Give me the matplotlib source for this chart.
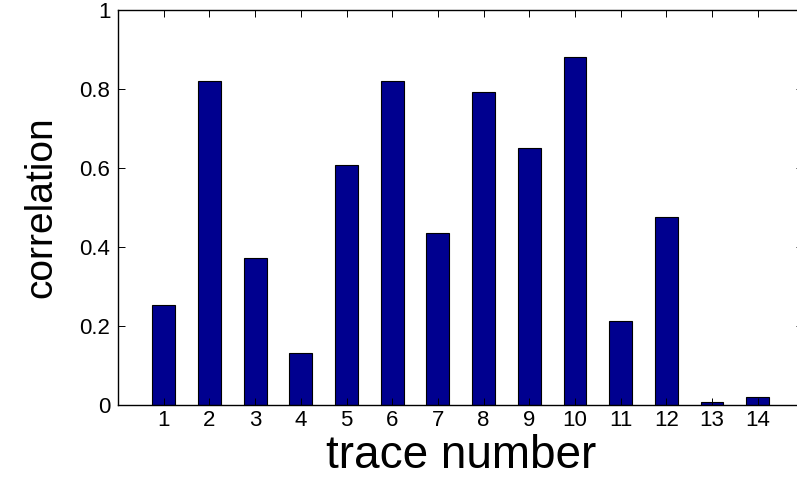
import numpy as np
import matplotlib as mpl
mpl.use('agg')
import matplotlib.pyplot as plt

## values
traces = [1, 2, 3, 4, 5, 6, 7, 8, 9, 10, 11, 12, 13, 14]
corr = [0.254, 0.821, 0.373, 0.131, 0.607, 0.820, 0.435,
        0.792, 0.650, 0.880, 0.214, 0.476, 0.008, 0.020]
yticks = [0, 0.2, 0.4, 0.6, 0.8, 1]
ytick_labels = ['0', '0.2', '0.4', '0.6', '0.8', '1']

plt.rcParams['font.family'] = ['Liberation Sans', 'DejaVu Sans']

fig = plt.figure(figsize=(7.97, 4.79), dpi=100)
# axes run a little past the right edge, as in the reference
ax = fig.add_axes([0.1481, 0.1539, 0.860, 0.8253])

ax.bar(traces, corr, width=0.5, color='#00008f', edgecolor='black', linewidth=0.8)

ax.set_xlim(0, 15)
ax.set_ylim(0, 1)
ax.set_xticks(traces)
ax.set_xticklabels([str(t) for t in traces])
ax.set_yticks(yticks)
ax.set_yticklabels(ytick_labels)

## matlab style box with inward ticks on all sides
ax.tick_params(direction='in', length=5, width=0.7, top=True, right=True,
               labelsize=16)
ax.tick_params(axis='x', pad=3.5)
ax.tick_params(axis='y', pad=5.5)
for s in ax.spines.values():
    s.set_linewidth(1.0)

ax.set_xlabel('trace number', fontsize=33)
ax.set_ylabel('correlation', fontsize=28)
ax.xaxis.set_label_coords(0.5, -0.072)
ax.yaxis.set_label_coords(-0.085, 0.50)

fig.savefig('out.png', dpi=100)
